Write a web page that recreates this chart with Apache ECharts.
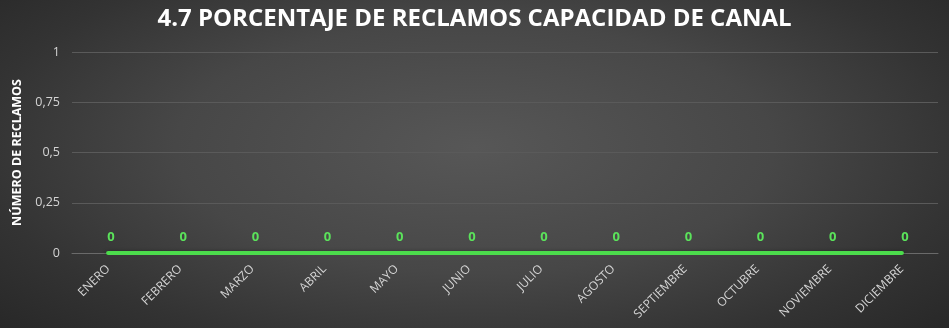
<!DOCTYPE html>
<html>
<head>
<meta charset="utf-8">
<script src="https://cdn.jsdelivr.net/npm/echarts@6/dist/echarts.min.js"></script>
<style>
html,body{margin:0;padding:0;background:#333;}
#chart{width:949px;height:328px;background:radial-gradient(ellipse 70% 85% at 50% 45%, #575757 0%, #474747 45%, #333333 75%, #262626 100%);}
</style>
</head>
<body>
<div id="chart"></div>
<script>
const titleText = "4.7 PORCENTAJE DE RECLAMOS CAPACIDAD DE CANAL";
const yAxisName = "NÚMERO DE RECLAMOS";
const categories = ["ENERO","FEBRERO","MARZO","ABRIL","MAYO","JUNIO","JULIO","AGOSTO","SEPTIEMBRE","OCTUBRE","NOVIEMBRE","DICIEMBRE"];
const values = [0,0,0,0,0,0,0,0,0,0,0,0];
const yTicks = [0, 0.25, 0.5, 0.75, 1];

const chart = echarts.init(document.getElementById('chart'));
chart.setOption({
  backgroundColor: 'transparent',
  title: {
    text: titleText,
    left: 'center',
    top: 2,
    textStyle: {color: '#ffffff', fontFamily: 'Open Sans', fontWeight: 'bold', fontSize: 24}
  },
  grid: {left: 72, right: 11, top: 52, bottom: 75, containLabel: false},
  xAxis: {
    type: 'category',
    data: categories,
    boundaryGap: true,
    axisLine: {show: true, lineStyle: {color: '#6a6a6a', width: 1}},
    axisTick: {show: false},
    axisLabel: {
      rotate: 45, color: '#d4d4d4', fontFamily: 'Open Sans', fontSize: 12, margin: 14,
      interval: 0
    }
  },
  yAxis: {
    type: 'value',
    min: 0, max: 1, interval: 0.25,
    name: yAxisName,
    nameLocation: 'middle',
    nameGap: 36,
    nameTextStyle: {color: '#ffffff', fontFamily: 'Open Sans', fontWeight: 'bold', fontSize: 12.5},
    axisLine: {show: false},
    axisTick: {show: false},
    axisLabel: {
      color: '#d4d4d4', fontFamily: 'Open Sans', fontSize: 12.5, margin: 12,
      formatter: v => String(v).replace('.', ',')
    },
    splitLine: {lineStyle: {color: '#5a5a5a', width: 1}}
  },
  series: [{
    type: 'line',
    data: values,
    symbol: 'circle',
    symbolSize: 2,
    showSymbol: true,
    itemStyle: {color: 'transparent', borderWidth: 0},
    lineStyle: {color: '#4cdc4c', width: 4, cap: 'round', shadowColor: 'rgba(0,0,0,0.5)', shadowBlur: 4, shadowOffsetY: 1},
    label: {
      show: true, position: 'top', distance: 8, offset: [3, 0],
      color: '#5be35b', fontFamily: 'Open Sans', fontWeight: 'bold', fontSize: 13,
      formatter: p => String(p.value)
    }
  }]
});
</script>
</body>
</html>
